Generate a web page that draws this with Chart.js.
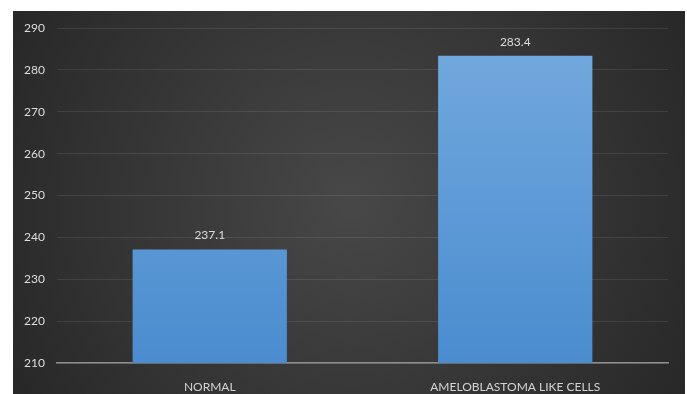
<!DOCTYPE html>
<html><head><meta charset="utf-8">
<script src="https://cdn.jsdelivr.net/npm/chart.js@4"></script>
<style>html,body{margin:0;padding:0;background:#fff;}#wrap{width:687px;height:394px;}</style>
</head><body><div id="wrap"><canvas id="c" width="687" height="394"></canvas></div>
<script>
const categories = ["NORMAL", "AMELOBLASTOMA LIKE CELLS"];
const values = [237.1, 283.4];
const yMin = 210, yMax = 290, yStep = 10;

const bgPlugin = {
  id: 'bg',
  beforeDraw(chart) {
    const ctx = chart.ctx, W = chart.width, H = chart.height;
    ctx.save();
    ctx.fillStyle = '#ffffff';
    ctx.fillRect(0, 0, W, H);
    const x0 = 13, y0 = 11;
    const g = ctx.createRadialGradient((x0 + W) / 2, (y0 + H) / 2, 10, (x0 + W) / 2, (y0 + H) / 2, 380);
    g.addColorStop(0, '#474747');
    g.addColorStop(1, '#282828');
    ctx.fillStyle = g;
    ctx.fillRect(x0, y0, W - x0 - 2, H - y0);
    ctx.restore();
  }
};

const labelPlugin = {
  id: 'vals',
  afterDatasetsDraw(chart) {
    const ctx = chart.ctx;
    const meta = chart.getDatasetMeta(0);
    ctx.save();
    ctx.fillStyle = '#dcdcdc';
    ctx.font = '12px Lato, "Open Sans", sans-serif';
    ctx.textAlign = 'center';
    ctx.textBaseline = 'middle';
    meta.data.forEach((bar, i) => {
      ctx.fillText(values[i].toFixed(1), bar.x, bar.y - 14);
    });
    ctx.restore();
  }
};

const ctx = document.getElementById('c').getContext('2d');
new Chart(ctx, {
  type: 'bar',
  data: {
    labels: categories,
    datasets: [{
      data: values,
      backgroundColor(c) {
        const area = c.chart.chartArea;
        if (!area) return '#5b9bd5';
        const g = c.chart.ctx.createLinearGradient(0, area.top, 0, area.bottom);
        g.addColorStop(0, '#74aade');
        g.addColorStop(1, '#4a8ccf');
        return g;
      },
      borderWidth: 0,
      categoryPercentage: 1.0,
      barPercentage: 0.505
    }]
  },
  options: {
    responsive: false,
    animation: false,
    devicePixelRatio: 1,
    layout: { padding: { left: 13, right: 19, top: 28, bottom: 0 } },
    plugins: { legend: { display: false }, tooltip: { enabled: false } },
    scales: {
      x: {
        grid: { display: false },
        border: { display: true, color: '#8f8f8f', width: 1.5 },
        ticks: { color: '#d4d4d4', font: { family: 'Lato, "Open Sans", sans-serif', size: 12 }, padding: 9, maxRotation: 0 },
        afterFit(s) { s.height = 31; }
      },
      y: {
        min: yMin, max: yMax,
        grid: { color: 'rgba(255,255,255,0.09)', drawTicks: false },
        border: { display: false },
        ticks: { stepSize: yStep, color: '#dedede', font: { family: 'Lato, "Open Sans", sans-serif', size: 12 }, padding: 12 },
        afterFit(s) { s.width = 44; }
      }
    }
  },
  plugins: [bgPlugin, labelPlugin]
});
</script>
</body></html>
